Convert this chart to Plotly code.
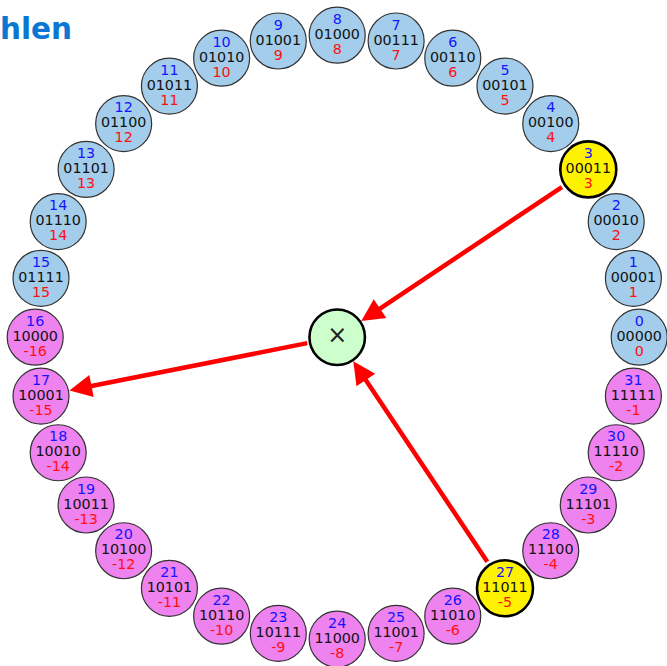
import math
import plotly.graph_objects as go

# ---- data ----
unsigned_vals = [0, 1, 2, 3, 4, 5, 6, 7, 8, 9, 10, 11, 12, 13, 14, 15,
                 16, 17, 18, 19, 20, 21, 22, 23, 24, 25, 26, 27, 28, 29, 30, 31]
binary_codes = ["00000", "00001", "00010", "00011", "00100", "00101", "00110", "00111",
                "01000", "01001", "01010", "01011", "01100", "01101", "01110", "01111",
                "10000", "10001", "10010", "10011", "10100", "10101", "10110", "10111",
                "11000", "11001", "11010", "11011", "11100", "11101", "11110", "11111"]
signed_vals = [0, 1, 2, 3, 4, 5, 6, 7, 8, 9, 10, 11, 12, 13, 14, 15,
               -16, -15, -14, -13, -12, -11, -10, -9, -8, -7, -6, -5, -4, -3, -2, -1]
operand_a = 3
operand_b = 27
result_idx = 17
operator_symbol = "×"
title_text = "hlen"

# ---- layout constants ----
W, H = 667, 666
CX, CY = 337.2, 337.2          # ring centre in pixels
R = 302.0                      # ring radius
N = len(unsigned_vals)
STEP = 360.0 / N
LINE_OFF = 15

def pos(k):
    a = math.radians(k * STEP)
    return R * math.cos(a), R * math.sin(a)

xs = [pos(k)[0] for k in unsigned_vals]
ys = [pos(k)[1] for k in unsigned_vals]

BLUE_FILL = "#a3cdeb"
PINK_FILL = "#ee82ee"
HILITE = "#fff200"
fills = []
lws = []
lcols = []
for k, s in zip(unsigned_vals, signed_vals):
    if k in (operand_a, operand_b):
        fills.append(HILITE); lws.append(2.6); lcols.append("#000000")
    else:
        fills.append(BLUE_FILL if s >= 0 else PINK_FILL); lws.append(1.2); lcols.append("#333333")

fig = go.Figure()

fig.add_trace(go.Scatter(
    x=xs, y=ys, mode="markers",
    marker=dict(size=56, color=fills, line=dict(width=lws, color=lcols)),
    hoverinfo="skip", showlegend=False))

font_family = "DejaVu Sans"
fs = 14.3
fig.add_trace(go.Scatter(
    x=xs, y=[y + LINE_OFF for y in ys], mode="text",
    text=[str(v) for v in unsigned_vals], textposition="middle center",
    textfont=dict(family=font_family, size=fs, color="#1414ff"),
    hoverinfo="skip", showlegend=False))
fig.add_trace(go.Scatter(
    x=xs, y=ys, mode="text",
    text=binary_codes, textposition="middle center",
    textfont=dict(family=font_family, size=fs, color="#111111"),
    hoverinfo="skip", showlegend=False))
fig.add_trace(go.Scatter(
    x=xs, y=[y - LINE_OFF for y in ys], mode="text",
    text=[str(v) for v in signed_vals], textposition="middle center",
    textfont=dict(family=font_family, size=fs, color="#ff1010"),
    hoverinfo="skip", showlegend=False))

# centre operator circle
fig.add_trace(go.Scatter(
    x=[0], y=[0], mode="markers",
    marker=dict(size=55.5, color="#ccffcc", line=dict(width=2.6, color="#000000")),
    hoverinfo="skip", showlegend=False))
fig.add_trace(go.Scatter(
    x=[0], y=[0], mode="text", text=[operator_symbol], textposition="middle center",
    textfont=dict(family=font_family, size=24, color="#222222"),
    hoverinfo="skip", showlegend=False))

arrow_common = dict(xref="x", yref="y", axref="x", ayref="y", showarrow=True,
                    arrowhead=2, arrowsize=1.0, arrowwidth=4.5, arrowcolor="#ff0000",
                    text="")
ax3, ay3 = pos(operand_a)
ax27, ay27 = pos(operand_b)
rx, ry = pos(result_idx)
fig.add_annotation(x=0, y=0, ax=ax3, ay=ay3, standoff=29, startstandoff=30, **arrow_common)
fig.add_annotation(x=0, y=0, ax=ax27, ay=ay27, standoff=29, startstandoff=30, **arrow_common)
fig.add_annotation(x=rx, y=ry, ax=0, ay=0, standoff=29, startstandoff=29, **arrow_common)

fig.add_annotation(x=0, y=1, xref="paper", yref="paper", text="<b>" + title_text + "</b>",
                   showarrow=False, xanchor="left", yanchor="top", xshift=-2, yshift=-9.5,
                   font=dict(family=font_family, size=29.5, color="#0a78d2"))

fig.update_xaxes(range=[-CX, W - CX], visible=False, showgrid=False, zeroline=False)
fig.update_yaxes(range=[-(H - CY), CY], visible=False, showgrid=False, zeroline=False)
fig.update_layout(width=W, height=H, margin=dict(l=0, r=0, t=0, b=0),
                  plot_bgcolor="white", paper_bgcolor="white", showlegend=False)

fig.write_html("out.html", config={"displayModeBar": False},
               post_script="document.body.style.margin='0';document.body.style.padding='0';")
